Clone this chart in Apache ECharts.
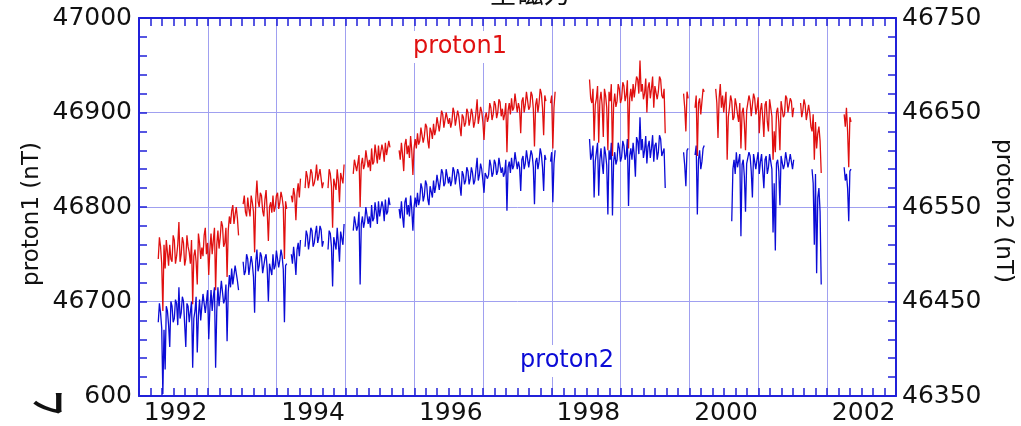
<!DOCTYPE html>
<html>
<head>
<meta charset="utf-8">
<script src="https://cdn.jsdelivr.net/npm/echarts@6/dist/echarts.min.js"></script>
<style>
html,body{margin:0;padding:0;background:#fff;}
#chart{width:1021px;height:426px;}
</style>
</head>
<body>
<div id="chart"></div>
<script>
// sampling grid of the records (decimal years)
const startYear = 1991.75;
const stepYear = 1 / 60;

// x-axis labels
const yearLabels = [1992, 1994, 1996, 1998, 2000, 2002];

// proton1 (nT), left axis
const proton1 = [
46745,46768,46758,46740,46690,46760,46735,46765,46752,46738,46760,46745,46742,46770,46765,46740,46748,46760,46784,46742,
46750,46768,46762,46738,46745,46770,46758,46752,46740,46765,46697,46748,46755,46742,46718,46772,46762,46745,46757,46748,
46770,46778,46750,46762,46728,46755,46772,46750,46765,46778,46712,46760,46775,46756,46768,46785,46780,46758,46762,46778,
46726,46775,46790,46782,46796,46802,46782,46792,46800,46788,46770,null,null,null,46803,46812,46795,46790,46810,46798,
46790,46812,46805,46795,46752,46808,46828,46806,46800,46815,46812,46796,46790,46808,46818,46795,46764,46800,46805,46794,
46812,46795,46800,46812,46815,46798,46805,46816,46810,46800,46745,46806,46798,null,null,null,46812,46805,46820,46812,
46786,46815,46825,46810,46830,null,null,null,46820,46838,46832,46820,46828,46840,46836,46822,46825,46832,46845,46828,
46830,46840,46838,46820,46826,null,null,null,46820,46840,46835,46822,46778,46830,46832,46818,46840,46828,46805,46836,
46838,46825,46845,null,null,null,null,null,null,null,46835,46850,46848,46838,46840,46855,46800,46845,46852,46840,
46845,46860,46858,46842,46850,46838,46862,46845,46848,46866,46856,46846,46865,46850,46852,46866,46860,46848,46868,46855,
46855,46870,46863,null,null,null,null,null,null,null,46860,46850,46868,46855,46838,46866,46872,46856,46865,46852,
46875,46860,46834,46862,46872,46862,46878,46866,46870,46884,46882,46868,46875,46888,46885,46870,46862,46884,46880,46872,
46888,46876,46882,46895,46893,46880,46890,46902,46898,46884,46886,46900,46902,46888,46894,46884,46890,46905,46900,46886,
46888,46902,46896,46884,46875,46898,46895,46885,46889,46904,46900,46886,46893,46904,46898,46884,46890,46900,46914,46888,
46896,46906,46901,46890,46871,46895,46900,46890,46895,46910,46905,46892,46898,46912,46908,46894,46900,46914,46911,46896,
46904,46892,46898,46910,46858,46902,46910,46898,46915,46902,46905,46920,46918,46900,46910,46904,46878,46912,46916,46900,
46908,46922,46920,46903,46906,46922,46918,46904,46864,46908,46915,46900,46910,46925,46920,46905,46876,46918,46912,null,
null,null,46910,46918,46862,46905,46922,null,null,null,null,null,null,null,null,null,null,null,null,null,
null,null,null,null,null,null,null,null,null,null,null,null,null,null,null,null,46935,46915,46910,46925,
46870,46908,46915,46928,46868,46912,46922,46908,46874,46925,46918,46905,46860,46922,46912,46930,46854,46908,46920,46906,
46912,46930,46925,46910,46915,46932,46928,46912,46918,46934,46862,46915,46925,46912,46930,46916,46918,46938,46935,46920,
46955,46922,46930,46914,46920,46936,46900,46926,46932,46915,46925,46938,46905,46928,46930,46914,46922,46938,46935,46918,
46915,46925,46878,null,null,null,null,null,null,null,null,null,null,null,null,null,null,null,46920,46905,
46880,46922,46915,null,null,null,null,null,46905,46918,46854,46910,46915,46898,46900,46925,46922,null,null,null,
null,null,null,null,null,null,46925,46910,46873,46915,46930,46905,46918,46900,46912,46922,46850,46895,46905,46918,
46912,46892,46895,46915,46908,46898,46890,46910,46862,46900,46905,46888,46860,46902,46900,46918,46912,46896,46895,46920,
46915,46898,46905,46916,46878,46902,46910,46895,46874,46908,46912,46890,46880,46914,46915,46896,46850,46880,46858,46900,
46905,46890,46860,46912,46910,46895,46898,46918,46915,46900,46902,46915,46912,46895,46905,null,null,null,null,null,
46910,46895,46902,46914,46908,46892,46890,46908,46900,46885,46880,46898,46850,46890,46862,46878,46885,46870,46836,null,
null,null,null,null,null,null,null,null,null,null,null,null,null,null,null,null,null,null,46898,46885,
46905,46880,46842,46895,46890
];

// proton2 (nT), right axis
const proton2 = [
46428,46448,46438,46422,46352,46420,46378,46445,46440,46425,46402,46450,46445,46428,46432,46452,46448,46425,46465,46432,
46438,46455,46450,46426,46402,46448,46445,46428,46430,46450,46380,46432,46440,46455,46396,46435,46452,46430,46445,46458,
46460,46438,46440,46462,46410,46442,46462,46440,46455,46465,46380,46440,46465,46445,46458,46472,46470,46448,46452,46468,
46408,46460,46478,46465,46485,46468,46470,46488,46490,46472,46462,null,null,null,46492,46478,46482,46500,46495,46478,
46480,46498,46490,46476,46438,46492,46505,46482,46488,46502,46498,46480,46478,46496,46500,46484,46450,46490,46492,46478,
46500,46484,46488,46504,46502,46486,46494,46505,46498,46484,46428,46488,46490,null,null,null,46500,46490,46508,46495,
46478,46505,46512,46498,46515,null,null,null,46508,46525,46520,46505,46515,46528,46525,46508,46512,46522,46530,46512,
46518,46530,46526,46508,46514,null,null,null,46505,46525,46522,46508,46466,46518,46520,46505,46528,46512,46492,46524,
46525,46510,46532,null,null,null,null,null,null,null,46525,46540,46538,46525,46530,46545,46468,46532,46540,46528,
46535,46550,46548,46532,46540,46528,46552,46535,46538,46555,46545,46532,46556,46540,46542,46556,46550,46535,46558,46542,
46545,46560,46552,null,null,null,null,null,null,null,46548,46538,46556,46540,46528,46555,46560,46542,46552,46540,
46562,46548,46525,46550,46560,46550,46565,46552,46558,46575,46570,46556,46562,46578,46574,46558,46552,46572,46570,46560,
46578,46565,46572,46584,46582,46568,46578,46590,46586,46572,46575,46590,46590,46575,46582,46572,46578,46592,46588,46574,
46576,46590,46585,46572,46562,46588,46584,46574,46578,46592,46588,46574,46580,46592,46586,46574,46578,46590,46602,46578,
46584,46596,46590,46578,46565,46586,46588,46580,46584,46600,46594,46582,46586,46600,46596,46584,46588,46602,46600,46586,
46592,46582,46586,46600,46546,46592,46598,46586,46602,46590,46594,46608,46606,46590,46598,46592,46567,46600,46604,46590,
46596,46610,46608,46592,46594,46610,46605,46592,46553,46598,46602,46590,46598,46612,46606,46592,46567,46605,46600,null,
null,null,46598,46608,46555,46596,46610,null,null,null,null,null,null,null,null,null,null,null,null,null,
null,null,null,null,null,null,null,null,null,null,null,null,null,null,null,null,46622,46600,46605,46615,
46560,46598,46608,46618,46562,46600,46612,46596,46585,46614,46606,46594,46542,46610,46600,46618,46541,46598,46608,46595,
46600,46618,46612,46598,46603,46620,46615,46600,46605,46622,46551,46604,46612,46600,46618,46605,46582,46624,46620,46606,
46645,46610,46622,46602,46610,46625,46596,46614,46620,46602,46612,46626,46598,46615,46618,46600,46608,46626,46622,46604,
46605,46612,46570,null,null,null,null,null,null,null,null,null,null,null,null,null,null,null,46608,46594,
46572,46610,46612,null,null,null,null,null,46605,46615,46542,46600,46610,46590,46598,46612,46615,null,null,null,
null,null,null,null,null,null,null,null,null,null,null,null,null,null,null,null,null,null,null,null,
46535,46590,46600,46585,46608,46592,46590,46606,46519,46595,46600,46582,46545,46596,46598,46608,46604,46588,46560,46606,
46608,46590,46600,46608,46585,46598,46606,46588,46570,46600,46604,46585,46592,46606,46608,46590,46523,46575,46504,46596,
46600,46588,46552,46604,46605,46590,46595,46608,46608,46592,46598,46606,46606,46590,46600,null,null,null,null,null,
null,null,null,null,null,null,null,null,null,null,46590,46575,46510,46585,46480,46560,46570,46545,46468,null,
null,null,null,null,null,null,null,null,null,null,null,null,null,null,null,null,null,null,46592,46578,
46585,46570,46535,46588,46590
];

function toPairs(vals) {
  return vals.map((v, i) => [startYear + i * stepYear, v === null ? '-' : v]);
}

const FONT = 'DejaVu Sans';
const AXIS_BLUE = '#2121d9';
const GRID_BLUE = '#a0a0f0';
const RED = '#e01010';
const BLUE = '#0b0bd6';

const axisLineStyle = { color: AXIS_BLUE, width: 2 };
const tickStyle = { color: AXIS_BLUE, width: 1.5 };

const chart = echarts.init(document.getElementById('chart'), null, { renderer: 'canvas' });
chart.setOption({
  animation: false,
  backgroundColor: '#ffffff',
  textStyle: { fontFamily: FONT },
  grid: { left: 139, right: 125, top: 18, bottom: 30, containLabel: false },
  xAxis: [
    {
      type: 'value', position: 'bottom', min: 1991.47, max: 2002.47, interval: 1,
      axisLine: { show: true, lineStyle: axisLineStyle },
      axisTick: { show: true, inside: true, length: 8, lineStyle: tickStyle },
      minorTick: { show: true, splitNumber: 6, length: 8, lineStyle: tickStyle },
      splitLine: { show: true, lineStyle: { color: GRID_BLUE, width: 1 } },
      axisLabel: { customValues: yearLabels, formatter: v => String(Math.round(v)),
                   fontSize: 25, color: '#111', margin: 5, fontFamily: FONT }
    },
    {
      type: 'value', position: 'top', min: 1991.47, max: 2002.47, interval: 1,
      axisLine: { show: true, lineStyle: axisLineStyle },
      axisTick: { show: true, inside: true, length: 8, lineStyle: tickStyle },
      minorTick: { show: true, splitNumber: 6, length: 8, lineStyle: tickStyle },
      splitLine: { show: false },
      axisLabel: { show: false }
    }
  ],
  yAxis: [
    {
      type: 'value', position: 'left', min: 46600, max: 47000, interval: 100,
      axisLine: { show: true, lineStyle: axisLineStyle },
      axisTick: { show: true, inside: true, length: 8, lineStyle: tickStyle },
      minorTick: { show: true, splitNumber: 5, length: 8, lineStyle: tickStyle },
      splitLine: { show: true, lineStyle: { color: GRID_BLUE, width: 1 } },
      axisLabel: { fontSize: 25, color: '#111', margin: 7, fontFamily: FONT,
                   formatter: v => (v === 46600 ? '600' : String(v)) }
    },
    {
      type: 'value', position: 'right', min: 46350, max: 46750, interval: 100,
      axisLine: { show: true, lineStyle: axisLineStyle },
      axisTick: { show: true, inside: true, length: 8, lineStyle: tickStyle },
      minorTick: { show: true, splitNumber: 5, length: 8, lineStyle: tickStyle },
      splitLine: { show: false },
      axisLabel: { fontSize: 25, color: '#111', margin: 6, fontFamily: FONT,
                   formatter: v => String(v) }
    }
  ],
  series: [
    {
      name: 'proton2', type: 'line', xAxisIndex: 0, yAxisIndex: 1,
      data: toPairs(proton2), showSymbol: false, connectNulls: false, sampling: null,
      lineStyle: { color: BLUE, width: 1.3 }, itemStyle: { color: BLUE }, z: 3
    },
    {
      name: 'proton1', type: 'line', xAxisIndex: 0, yAxisIndex: 0,
      data: toPairs(proton1), showSymbol: false, connectNulls: false, sampling: null,
      lineStyle: { color: RED, width: 1.3 }, itemStyle: { color: RED }, z: 4
    }
  ],
  graphic: [
    { type: 'text', x: 530, y: -21, z: 100,
      style: { text: '全磁力', fill: '#111', font: '27px "Noto Sans CJK JP"', align: 'center', verticalAlign: 'top' } },
    { type: 'text', x: 32, y: 214, rotation: Math.PI / 2, z: 100,
      style: { text: 'proton1 (nT)', fill: '#111', font: '23px "DejaVu Sans"', align: 'center', verticalAlign: 'middle' } },
    { type: 'text', x: 1003, y: 211, rotation: -Math.PI / 2, z: 100,
      style: { text: 'proton2 (nT)', fill: '#111', font: '23px "DejaVu Sans"', align: 'center', verticalAlign: 'middle' } },
    { type: 'text', x: 460, y: 47, z: 100,
      style: { text: 'proton1', fill: RED, font: '24px "DejaVu Sans"', align: 'center', verticalAlign: 'middle',
               backgroundColor: '#ffffff', padding: [4, 3, 4, 3] } },
    { type: 'text', x: 567, y: 361, z: 100,
      style: { text: 'proton2', fill: BLUE, font: '24px "DejaVu Sans"', align: 'center', verticalAlign: 'middle',
               backgroundColor: '#ffffff', padding: [4, 3, 4, 3] } },
    { type: 'text', x: 50, y: 402, scaleX: -1.3, scaleY: 0.85, z: 100,
      style: { text: 'レ', fill: '#111', font: 'bold 30px "Noto Sans CJK JP"', align: 'center', verticalAlign: 'middle' } }
  ]
});
</script>
</body>
</html>
